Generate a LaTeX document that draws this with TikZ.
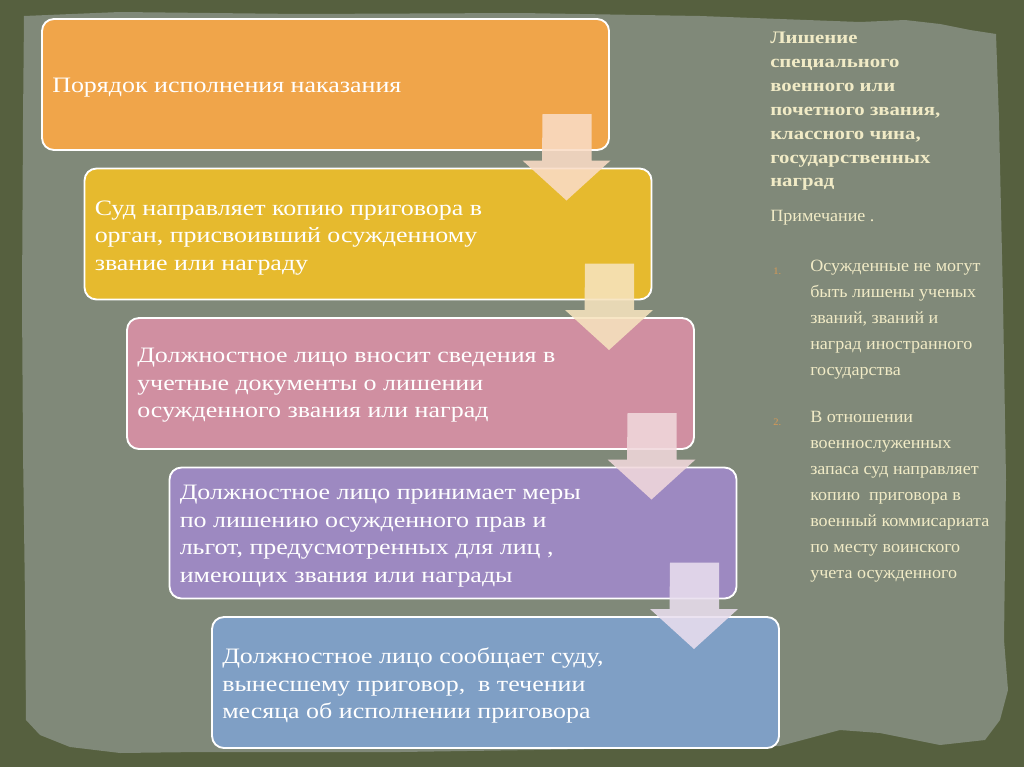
\documentclass[tikz,border=0pt]{standalone}
\usepackage{fontspec}
\setmainfont[FakeStretch=1.18]{Liberation Serif}
\newfontfamily\notefont[FakeStretch=1.05]{Liberation Serif}
\usetikzlibrary{calc}
\definecolor{outerbg}{HTML}{56603F}
\definecolor{paper}{HTML}{808979}
\definecolor{cream}{HTML}{F1EBC6}
\definecolor{numcol}{HTML}{D99A55}
\definecolor{c1}{HTML}{F0A54A}
\definecolor{c2}{HTML}{E6BA2E}
\definecolor{c3}{HTML}{D08FA1}
\definecolor{c4}{HTML}{9D89C1}
\definecolor{c5}{HTML}{7F9FC5}
\definecolor{a1}{HTML}{FADCC6}
\definecolor{a2}{HTML}{F6E3BE}
\definecolor{a3}{HTML}{F1D8DC}
\definecolor{a4}{HTML}{E9DEEE}
\tikzset{
  stepbox/.style={draw=white, line width=1.4pt, rounded corners=9pt,
    minimum width=425.25pt, minimum height=98.25pt,
    inner sep=0pt, outer sep=0pt},
  steptxt/.style={anchor=west, align=left, inner sep=0pt, text=white,
    font=\fontsize{16.5}{20.6}\selectfont},
  blockarr/.style={draw=none, opacity=0.88},
  titletxt/.style={anchor=north west, align=left, text=cream, inner sep=0pt,
    font=\fontsize{13.2}{17.9}\selectfont\bfseries},
  notetxt/.style={anchor=north west, align=left, text=cream, inner sep=0pt,
    font=\notefont\fontsize{12.9}{19.5}\selectfont},
  numtxt/.style={anchor=base west, text=numcol, inner sep=0pt,
    font=\notefont\fontsize{7.5}{8}\selectfont}
}
\newcommand\blockarrow[3]{%
  \fill[blockarr, fill=#3]
    ($(#1.south east)+(-66.5,-36)$) -- ($(#1.south east)+(-17.5,-36)$)
    -- ($(#2.north east)+(-60,-8)$) -- ($(#2.north east)+(-41,-8)$)
    -- ($(#2.north east)+(-85,32)$)
    -- ($(#2.north east)+(-129,-8)$) -- ($(#2.north east)+(-109.5,-8)$) -- cycle;
}
\begin{document}
\begin{tikzpicture}[x=0.75pt,y=-0.75pt]
\useasboundingbox (0,0) rectangle (1024,767);
% background
\fill[outerbg] (0,0) rectangle (1024,767);
\fill[paper] (24,16) -- (120,12) -- (300,14) -- (520,13) -- (700,16) -- (860,22)
  -- (905,20) -- (940,24) -- (970,30) -- (996,34) -- (999,120) -- (1003,300)
  -- (1006,480) -- (1004,640) -- (1008,690) -- (1000,720) -- (985,740)
  -- (940,745) -- (880,733) -- (840,730) -- (780,746) -- (600,749) -- (400,752)
  -- (200,752) -- (120,753) -- (70,747) -- (40,735) -- (26,720) -- (25,600)
  -- (23,450) -- (22,300) -- (23,120) -- cycle;
% boxes
\node[stepbox, fill=c1] (b1) at (325.5,84.5) {};
\node[stepbox, fill=c2] (b2) at (368,234) {};
\node[stepbox, fill=c3] (b3) at (410.5,383.5) {};
\node[stepbox, fill=c4] (b4) at (453,533) {};
\node[stepbox, fill=c5] (b5) at (495.5,682.5) {};
\node[steptxt] (t1) at ($(b1.west)+(10,3)$) {Порядок исполнения наказания};
\node[steptxt] (t2) at ($(b2.west)+(10,4)$) {Суд направляет копию приговора в\\орган, присвоивший осужденному\\звание или награду};
\node[steptxt] (t3) at ($(b3.west)+(10,2)$) {Должностное лицо вносит сведения в\\учетные документы о лишении\\осужденного звания или наград};
\node[steptxt] (t4) at ($(b4.west)+(10,3)$) {Должностное лицо принимает меры\\по лишению осужденного прав и\\льгот, предусмотренных для лиц ,\\имеющих звания или награды};
\node[steptxt] (t5) at ($(b5.west)+(10,3)$) {Должностное лицо сообщает суду,\\вынесшему приговор,\ \ в течении\\месяца об исполнении приговора};
% block arrows
\blockarrow{b1}{b2}{a1}
\blockarrow{b2}{b3}{a2}
\blockarrow{b3}{b4}{a3}
\blockarrow{b4}{b5}{a4}
% right column
\node[titletxt] (title) at (770,32) {Лишение\\специального\\военного или\\почетного звания,\\классного чина,\\государственных\\наград};
\node[notetxt] (note) at (770,210) {Примечание .};
\node[notetxt] (n1) at (810,260) {Осужденные не могут\\быть лишены ученых\\званий, званий и\\наград иностранного\\государства};
\node[notetxt] (n2) at (810,411) {В отношении\\военнослуженных\\запаса суд направляет\\копию\ \ приговора в\\военный коммисариата\\по месту воинского\\учета осужденного};
\node[numtxt] (k1) at (773,274) {1.};
\node[numtxt] (k2) at (773,425) {2.};
\end{tikzpicture}
\end{document}
